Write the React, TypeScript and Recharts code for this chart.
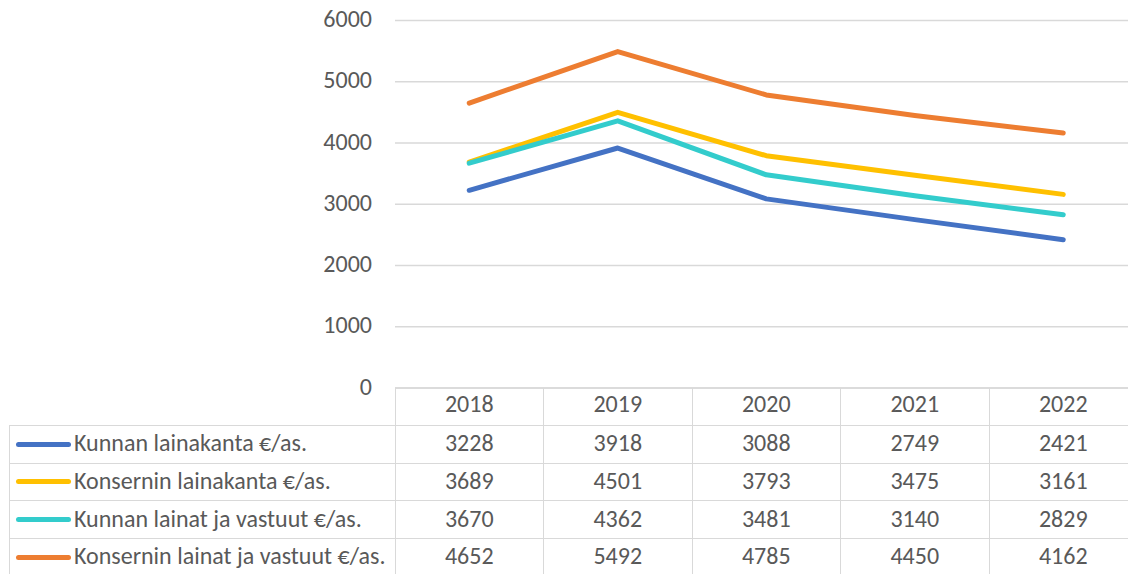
import { LineChart, Line, XAxis, YAxis, CartesianGrid } from 'recharts'

document.body.style.margin = '0'

const years = ['2018', '2019', '2020', '2021', '2022']
const kunnanLainakanta = [3228, 3918, 3088, 2749, 2421]
const konserninLainakanta = [3689, 4501, 3793, 3475, 3161]
const kunnanLainatJaVastuut = [3670, 4362, 3481, 3140, 2829]
const konserninLainatJaVastuut = [4652, 5492, 4785, 4450, 4162]
const yTicks = [0, 1000, 2000, 3000, 4000, 5000, 6000]

const SERIES = [
  { key: 'kunnanLaina', name: 'Kunnan lainakanta €/as.', color: '#4472C4', values: kunnanLainakanta },
  { key: 'konserninLaina', name: 'Konsernin lainakanta €/as.', color: '#FFC000', values: konserninLainakanta },
  { key: 'kunnanVastuut', name: 'Kunnan lainat ja vastuut €/as.', color: '#33CCCC', values: kunnanLainatJaVastuut },
  { key: 'konserninVastuut', name: 'Konsernin lainat ja vastuut €/as.', color: '#ED7D31', values: konserninLainatJaVastuut },
]

const data = years.map((year, i) => {
  const row: Record<string, string | number> = { year }
  SERIES.forEach(s => (row[s.key] = s.values[i]))
  return row
})

// layout (px)
const W = 1140
const H = 574
const PLOT_LEFT = 395
const PLOT_TOP = 20.5
const PLOT_BOTTOM = 388
const COL_W = 148.5
const TABLE_LEFT = 9
const ROW_TOPS = [425, 463, 500.5, 538, 576]
const GRID = '#d9d9d9'
const TEXT = '#595959'
const FONT = "Calibri, Carlito, 'Open Sans', sans-serif"
const FS = 24

export default function App() {
  const plotRight = PLOT_LEFT + COL_W * years.length
  return (
    <div style={{ position: 'relative', width: 1128, height: H, overflow: 'hidden', background: '#fff', fontFamily: FONT }}>
      <LineChart
        width={W}
        height={H}
        data={data}
        margin={{ top: PLOT_TOP, right: W - plotRight, left: 0, bottom: 0 }}
        style={{ fontFamily: FONT }}
      >
        <CartesianGrid vertical={false} stroke={GRID} strokeWidth={1.3} />
        <XAxis
          dataKey="year"
          height={H - PLOT_BOTTOM}
          padding={{ left: COL_W / 2, right: COL_W / 2 }}
          axisLine={{ stroke: GRID, strokeWidth: 1.3 }}
          tickLine={false}
          tickSize={0}
          tickMargin={7}
          tick={{ fill: TEXT, fontSize: FS }}
          interval={0}
        />
        <YAxis
          width={PLOT_LEFT}
          domain={[0, 6000]}
          ticks={yTicks}
          axisLine={false}
          tickLine={false}
          tickSize={0}
          tickMargin={23}
          tick={{ fill: TEXT, fontSize: FS, dy: -2 }}
        />
        {SERIES.map(s => (
          <Line
            key={s.key}
            dataKey={s.key}
            name={s.name}
            stroke={s.color}
            strokeWidth={5}
            strokeLinecap="round"
            strokeLinejoin="round"
            dot={false}
            activeDot={false}
            isAnimationActive={false}
          />
        ))}
      </LineChart>

      {/* data table */}
      {ROW_TOPS.slice(0, 4).map(y => (
        <div key={'h' + y} style={{ position: 'absolute', left: TABLE_LEFT, top: y - 0.5, width: plotRight - TABLE_LEFT, height: 1.3, background: GRID }} />
      ))}
      <div style={{ position: 'absolute', left: TABLE_LEFT - 0.5, top: ROW_TOPS[0], width: 1.3, height: H - ROW_TOPS[0], background: GRID }} />
      {years.map((_, i) => (
        <div key={'v' + i} style={{ position: 'absolute', left: PLOT_LEFT + COL_W * (i + 1) - 0.5, top: PLOT_BOTTOM, width: 1.3, height: H - PLOT_BOTTOM, background: GRID }} />
      ))}
      <div style={{ position: 'absolute', left: PLOT_LEFT - 0.5, top: PLOT_BOTTOM, width: 1.3, height: H - PLOT_BOTTOM, background: GRID }} />

      {SERIES.map((s, r) => {
        const top = ROW_TOPS[r]
        const h = ROW_TOPS[r + 1] - top
        return (
          <div key={s.key}>
            <div style={{ position: 'absolute', left: 16, top: top + h / 2 - 2.5, width: 55, height: 5, borderRadius: 3, background: s.color }} />
            <div style={{ position: 'absolute', left: 74, top: top - 1, height: h, lineHeight: h + 'px', fontSize: FS, color: TEXT, whiteSpace: 'nowrap' }}>
              {s.name}
            </div>
            {s.values.map((v, i) => (
              <div
                key={i}
                style={{ position: 'absolute', left: PLOT_LEFT + COL_W * i, top: top - 1, width: COL_W, height: h, lineHeight: h + 'px', textAlign: 'center', fontSize: FS, color: TEXT }}
              >
                {v}
              </div>
            ))}
          </div>
        )
      })}
    </div>
  )
}
